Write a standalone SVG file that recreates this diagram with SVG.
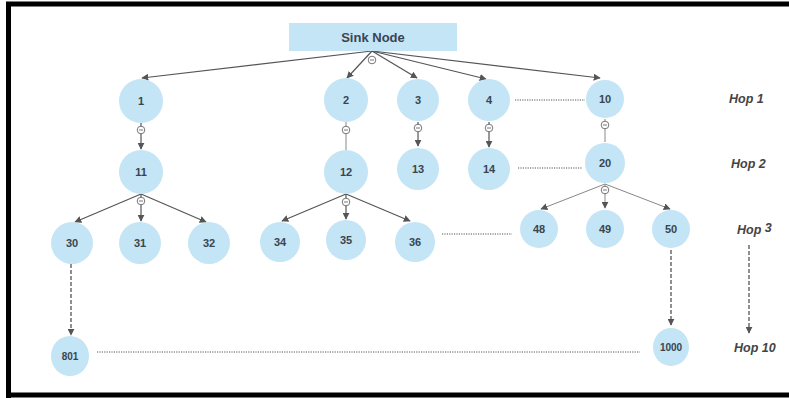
<svg xmlns="http://www.w3.org/2000/svg" width="789" height="398" viewBox="0 0 789 398">
<defs>
<style>
.n{fill:#c3e5f5}
.t{font-family:"Liberation Sans",Arial,sans-serif;font-weight:bold;font-size:11px;fill:#3a4450;text-anchor:middle;dominant-baseline:central}
.hop{font-family:"Liberation Sans",Arial,sans-serif;font-weight:bold;font-style:italic;font-size:12.5px;fill:#444}
.c{stroke:#555;stroke-width:1.2;fill:none}
.cl{stroke:#888;stroke-width:1;fill:none}
.d{stroke:#555;stroke-width:1.3;fill:none;stroke-dasharray:4 2}
.dot{stroke:#555;stroke-width:1;fill:none;stroke-dasharray:1.2 1.2}
.ic{fill:#fff;stroke:#666;stroke-width:0.9}
</style>
<marker id="a" viewBox="0 0 10 10" refX="9" refY="5" markerWidth="7" markerHeight="7" orient="auto" markerUnits="userSpaceOnUse">
<path d="M0,0 L10,5 L0,10 z" fill="#555"/>
</marker>
<g id="icon"><circle r="3.8" class="ic"/><line x1="-2" y1="0" x2="2" y2="0" stroke="#666" stroke-width="0.9"/></g>
</defs>
<rect x="0" y="0" width="789" height="398" fill="#fff"/>
<path d="M8.5,398 V4 H789 M8,395 H789" stroke="#000" stroke-width="5" fill="none"/>
<g id="connectors">
<line class="c" x1="372" y1="51" x2="142" y2="78" marker-end="url(#a)"/>
<line class="c" x1="372" y1="51" x2="347" y2="78" marker-end="url(#a)"/>
<line class="c" x1="372" y1="51" x2="417" y2="78" marker-end="url(#a)"/>
<line class="c" x1="372" y1="51" x2="486" y2="79" marker-end="url(#a)"/>
<line class="c" x1="372" y1="51" x2="600" y2="78" marker-end="url(#a)"/>
<line class="c" x1="141" y1="123" x2="141" y2="149" marker-end="url(#a)"/>
<line class="cl" x1="346" y1="122" x2="346" y2="150"/>
<line class="c" x1="418" y1="122" x2="418" y2="146" marker-end="url(#a)"/>
<line class="c" x1="489" y1="122" x2="489" y2="147" marker-end="url(#a)"/>
<line class="cl" x1="605" y1="119" x2="605" y2="142"/>
<line class="c" x1="141" y1="194" x2="75" y2="222" marker-end="url(#a)"/>
<line class="c" x1="141" y1="194" x2="141" y2="221" marker-end="url(#a)"/>
<line class="c" x1="141" y1="194" x2="206" y2="222" marker-end="url(#a)"/>
<line class="c" x1="346" y1="194" x2="282" y2="221" marker-end="url(#a)"/>
<line class="c" x1="346" y1="194" x2="346" y2="219" marker-end="url(#a)"/>
<line class="c" x1="346" y1="194" x2="410" y2="221" marker-end="url(#a)"/>
<line class="cl" x1="605" y1="184" x2="541" y2="209" marker-end="url(#a)"/>
<line class="cl" x1="605" y1="184" x2="605" y2="208" marker-end="url(#a)"/>
<line class="cl" x1="605" y1="184" x2="670" y2="209" marker-end="url(#a)"/>
<line class="d" x1="71" y1="264" x2="71" y2="335" marker-end="url(#a)"/>
<line class="d" x1="671" y1="250" x2="671" y2="325" marker-end="url(#a)"/>
<line class="d" x1="749" y1="245" x2="749" y2="333" marker-end="url(#a)"/>
<line class="dot" x1="515" y1="100" x2="585" y2="100"/>
<line class="dot" x1="518" y1="168" x2="582" y2="168"/>
<line class="dot" x1="442" y1="234" x2="512" y2="234"/>
<line class="dot" x1="97" y1="352" x2="640" y2="352"/>
<use href="#icon" x="372" y="60"/>
<use href="#icon" x="141" y="130"/>
<use href="#icon" x="346" y="130"/>
<use href="#icon" x="418" y="128"/>
<use href="#icon" x="489" y="128"/>
<use href="#icon" x="605" y="125"/>
<use href="#icon" x="141" y="201"/>
<use href="#icon" x="346" y="202"/>
<use href="#icon" x="605" y="190"/>
</g>
<g id="sink"><rect class="n" x="289" y="23" width="168" height="28"/><text class="t" x="373" y="37" style="font-size:13px">Sink Node</text></g>
<g id="n1"><circle class="n" cx="141" cy="101" r="22"/><text class="t" x="141" y="101">1</text></g>
<g id="n2"><circle class="n" cx="346" cy="100" r="22"/><text class="t" x="346" y="100">2</text></g>
<g id="n3"><circle class="n" cx="418" cy="100" r="21"/><text class="t" x="418" y="100">3</text></g>
<g id="n4"><circle class="n" cx="489" cy="100" r="21"/><text class="t" x="489" y="100">4</text></g>
<g id="n10"><circle class="n" cx="605" cy="99" r="19"/><text class="t" x="605" y="99">10</text></g>
<g id="n11"><circle class="n" cx="141" cy="172" r="22"/><text class="t" x="141" y="172">11</text></g>
<g id="n12"><circle class="n" cx="346" cy="172" r="22"/><text class="t" x="346" y="172">12</text></g>
<g id="n13"><circle class="n" cx="418" cy="169" r="21"/><text class="t" x="418" y="169">13</text></g>
<g id="n14"><circle class="n" cx="489" cy="169" r="21"/><text class="t" x="489" y="169">14</text></g>
<g id="n20"><circle class="n" cx="605" cy="163" r="20"/><text class="t" x="605" y="163">20</text></g>
<g id="n30"><circle class="n" cx="72" cy="243" r="21"/><text class="t" x="72" y="243">30</text></g>
<g id="n31"><circle class="n" cx="140" cy="243" r="21"/><text class="t" x="140" y="243">31</text></g>
<g id="n32"><circle class="n" cx="209" cy="243" r="21"/><text class="t" x="209" y="243">32</text></g>
<g id="n34"><circle class="n" cx="280" cy="242" r="20"/><text class="t" x="280" y="242">34</text></g>
<g id="n35"><circle class="n" cx="346" cy="240" r="20"/><text class="t" x="346" y="240">35</text></g>
<g id="n36"><circle class="n" cx="415" cy="242" r="20"/><text class="t" x="415" y="242">36</text></g>
<g id="n48"><circle class="n" cx="539" cy="229" r="19"/><text class="t" x="539" y="229">48</text></g>
<g id="n49"><circle class="n" cx="605" cy="229" r="19"/><text class="t" x="605" y="229">49</text></g>
<g id="n50"><circle class="n" cx="671" cy="229" r="19"/><text class="t" x="671" y="229">50</text></g>
<g id="n801"><ellipse class="n" cx="70" cy="356" rx="19" ry="20"/><text class="t" x="70" y="356" style="font-size:10px">801</text></g>
<g id="n1000"><ellipse class="n" cx="671" cy="347" rx="18" ry="19"/><text class="t" x="671" y="347" style="font-size:10px">1000</text></g>
<g id="hops">
<text class="hop" x="729" y="103">Hop 1</text>
<text class="hop" x="731" y="168">Hop 2</text>
<text class="hop" x="737" y="234">Hop <tspan dy="-2">3</tspan></text>
<text class="hop" x="734" y="352">Hop 10</text>
</g>
</svg>
